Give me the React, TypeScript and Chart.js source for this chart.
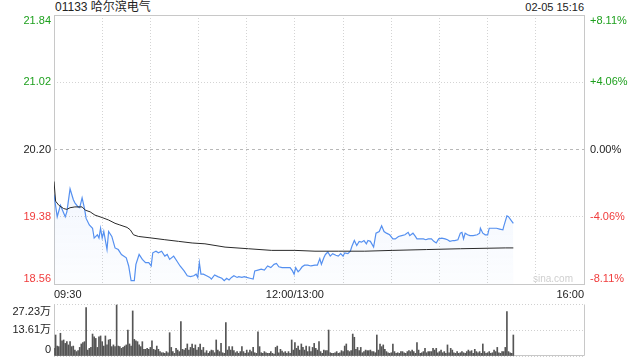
import React, { useEffect, useRef } from 'react';
import { Chart, registerables } from 'chart.js';

Chart.register(...registerables);

const FONT = '"Liberation Sans", "Noto Sans CJK SC", Arial, sans-serif';
const UP = '#1ea01e';
const DOWN = '#f03c3c';
const FLAT = '#222222';

const stockTitle = '01133 哈尔滨电气';
const stampText = '02-05 15:16';
const prevClose = 20.2;
const priceTicks = [18.56, 19.38, 20.2, 21.02, 21.84];
const pctTickLabels = ['-8.11%', '-4.06%', '0.00%', '+4.06%', '+8.11%'];
const gridMinutes = [0, 30, 60, 90, 120, 150, 180, 210, 240, 270, 300, 330];
const timeTickMinutes = [0, 150, 330];
const timeTickLabels = ['09:30', '12:00/13:00', '16:00'];
const volumeTicks = [0, 13.61, 27.23];
const volumeTickLabels = ['0', '13.61万', '27.23万'];

const priceMinutes = [
  0, 2, 4, 7, 8, 10, 12, 13, 15, 16, 17.5, 19, 20, 22, 24, 25, 27, 28, 29, 30,
  31, 33, 34, 36, 38, 40, 42, 45, 46.5, 48, 50, 51, 53, 55, 57, 59, 60.5, 61.5, 63.5, 65,
  67, 69, 70.5, 72, 74.5, 76.5, 78.5, 81, 83, 85, 87, 88.5, 89.5, 90.5, 91.5, 93, 95, 97, 98, 100,
  102, 104.5, 106, 107.5, 109, 110.5, 112, 114, 115, 117, 118.5, 120, 122, 124, 125, 127, 129, 131, 133, 135,
  137, 138.5, 140, 142, 145, 147, 148.5, 149.5, 150.5, 152, 153, 154.5, 156, 158, 160, 162.5, 164, 165.5, 166.5, 168,
  169, 170.5, 172, 173.5, 175.5, 177, 178.5, 180, 181, 183, 184.5, 185.5, 187, 188.5, 190, 191.5, 193, 194.5, 195.5, 197,
  199, 200.5, 202.5, 204, 205.5, 207, 209, 211, 212.5, 214.5, 216.5, 218.5, 220.5, 221.5, 223.5, 225, 226, 228, 230, 231.5,
  233, 235, 236.5, 238, 239.5, 241.5, 243.5, 245, 246.5, 248.5, 249.5, 251.5, 253, 254, 255, 256, 257.5, 259, 261, 263.5,
  265, 265.5, 267, 268.5, 270, 271, 273, 275.5, 277.5, 279.5, 280, 282, 283, 284.5, 286,
];
const prices = [
  19.65, 19.38, 19.52, 19.38, 19.44, 19.72, 19.59, 19.55, 19.5, 19.49, 19.61, 19.48, 19.36, 19.28, 19.24, 19.12, 19.16, 19.12, 19.24, 19.12,
  19.2, 18.98, 19.2, 19.14, 19.0, 18.98, 18.92, 18.88, 18.78, 18.6, 18.6, 18.8, 18.92, 18.86, 18.82, 18.82, 18.78, 18.94, 18.96, 18.94,
  18.96, 18.9, 18.92, 18.86, 18.9, 18.84, 18.78, 18.72, 18.66, 18.65, 18.66, 18.68, 18.64, 18.82, 18.68, 18.68, 18.66, 18.64, 18.62, 18.67,
  18.65, 18.63, 18.6, 18.63, 18.61, 18.64, 18.66, 18.64, 18.65, 18.64, 18.65, 18.64, 18.63, 18.62, 18.72, 18.73, 18.74, 18.73, 18.78, 18.76,
  18.8, 18.81, 18.77, 18.76, 18.76, 18.76, 18.72, 18.68, 18.76, 18.71, 18.73, 18.77, 18.79, 18.79, 18.78, 18.79, 18.79, 18.87, 18.8, 18.88,
  18.92, 18.95, 18.9, 18.93, 18.91, 18.9, 18.93, 18.9, 18.94, 18.93, 18.96, 19.02, 19.09, 19.03, 19.08, 19.07, 19.09, 19.05, 19.09, 19.08,
  19.01, 19.18, 19.2, 19.27, 19.2, 19.18, 19.16, 19.11, 19.11, 19.14, 19.15, 19.16, 19.19, 19.15, 19.18, 19.14, 19.11, 19.11, 19.11, 19.1,
  19.11, 19.11, 19.08, 19.06, 19.11, 19.12, 19.11, 19.1, 19.08, 19.09, 19.09, 19.1, 19.18, 19.19, 19.11, 19.18, 19.16, 19.15, 19.15, 19.16,
  19.18, 19.24, 19.18, 19.16, 19.16, 19.24, 19.24, 19.24, 19.23, 19.22, 19.26, 19.39, 19.38, 19.34, 19.3,
];

const avgMinutes = [
  0, 1, 3, 6, 8, 10, 13, 17.5, 19.5, 22.5, 25.5, 30, 34, 38, 41, 45.5, 47.5, 49.5, 52.5, 61,
  69, 77.5, 86, 94, 106.5, 121, 135.5, 150, 162.5, 177, 193.5, 211, 232, 253, 281, 286,
];
const avgPrices = [
  19.81, 19.57, 19.52, 19.48, 19.47, 19.49, 19.5, 19.5, 19.46, 19.44, 19.4, 19.37, 19.34, 19.3, 19.28, 19.25, 19.22, 19.16, 19.14, 19.12,
  19.1, 19.08, 19.06, 19.05, 19.01, 18.99, 18.97, 18.97, 18.96, 18.96, 18.96, 18.97, 18.98, 18.99, 19.0, 19.0,
];

// volume per minute (万股), index = trading minute since 09:30
const volumes = [
  4.0, 11.0, 5.2, 4.9, 11.9, 8.0, 8.4, 6.6, 7.5, 5.8,
  7.5, 4.9, 5.2, 3.1, 2.3, 2.8, 4.5, 6.3, 7.0, 7.5,
  25.3, 3.1, 4.0, 4.5, 11.5, 10.1, 9.2, 4.5, 10.1, 10.5,
  7.5, 5.2, 10.5, 5.8, 8.4, 8.7, 4.9, 5.8, 4.9, 26.7,
  5.2, 4.9, 4.0, 4.5, 5.2, 5.8, 13.6, 6.3, 5.2, 23.6,
  8.7, 8.0, 7.5, 5.8, 4.9, 7.5, 3.5, 3.5, 4.0, 3.5,
  4.5, 7.9, 3.5, 3.1, 5.2, 3.5, 2.3, 1.7, 1.7, 1.4,
  2.3, 1.7, 12.2, 4.5, 2.3, 1.4, 4.0, 3.1, 2.3, 18.0,
  3.5, 3.1, 4.0, 6.3, 3.1, 4.5, 6.3, 4.0, 5.8, 3.1,
  4.5, 6.3, 3.1, 4.5, 1.7, 2.8, 1.4, 2.3, 3.1, 2.8,
  1.7, 8.4, 3.1, 2.3, 6.6, 1.7, 1.4, 17.5, 3.1, 4.9,
  3.1, 4.9, 2.8, 1.7, 2.3, 1.4, 2.3, 4.9, 2.3, 1.4,
  3.1, 1.7, 3.1, 2.3, 4.5, 1.7, 1.4, 12.7, 4.9, 1.7,
  1.4, 2.3, 1.7, 1.4, 1.4, 2.3, 1.4, 1.0, 4.5, 5.2,
  1.7, 3.5, 2.6, 1.7, 2.3, 1.4, 2.3, 1.4, 8.4, 3.1,
  7.0, 4.0, 5.2, 3.1, 6.3, 4.5, 3.1, 5.2, 2.3, 4.9,
  2.3, 4.5, 6.6, 4.0, 3.1, 7.5, 2.3, 1.4, 3.1, 2.8,
  2.8, 13.6, 1.7, 1.4, 1.4, 1.7, 2.3, 1.4, 1.7, 2.8,
  2.3, 5.2, 6.3, 2.8, 2.3, 2.8, 11.5, 9.8, 3.5, 4.5,
  2.8, 4.5, 1.7, 2.3, 3.1, 2.8, 2.8, 3.1, 2.3, 2.3,
  1.7, 11.0, 3.1, 6.3, 4.9, 5.8, 3.5, 2.3, 1.7, 1.4,
  1.7, 6.3, 2.3, 1.4, 1.7, 1.4, 2.3, 2.3, 1.7, 1.4,
  2.3, 2.8, 2.3, 3.1, 2.3, 1.4, 7.0, 3.1, 1.4, 1.7,
  2.3, 4.0, 1.7, 2.3, 2.3, 2.3, 4.0, 3.1, 4.0, 1.7,
  2.3, 3.1, 1.7, 2.3, 1.4, 5.8, 1.7, 4.0, 3.1, 1.7,
  1.4, 2.3, 1.4, 1.7, 2.3, 1.7, 1.4, 2.3, 3.1, 2.3,
  2.8, 1.4, 3.5, 2.3, 1.7, 2.3, 1.4, 6.3, 2.3, 1.4,
  1.7, 2.3, 1.4, 1.7, 3.1, 2.3, 4.5, 1.7, 1.4, 2.3,
  2.3, 4.5, 23.2, 2.3, 1.7, 1.4, 11.0,
];

function priceColor(v: number) {
  if (Math.abs(v - prevClose) < 1e-6) return FLAT;
  return v > prevClose ? UP : DOWN;
}

const isPrev = (v: number) => Math.abs(v - prevClose) < 1e-6;

const mainDecor = {
  id: 'mainDecor',
  beforeDatasetsDraw(chart: any) {
    const { ctx, chartArea: a } = chart;
    ctx.save();
    ctx.strokeStyle = '#c8c8c8';
    ctx.lineWidth = 1;
    ctx.strokeRect(Math.round(a.left) + 0.5, Math.round(a.top) + 0.5, Math.round(a.right - a.left), Math.round(a.bottom - a.top));
    ctx.font = `10px ${FONT}`;
    ctx.fillStyle = '#cfcfcf';
    ctx.textAlign = 'right';
    ctx.textBaseline = 'middle';
    ctx.fillText('sina.com', a.right - 11, a.bottom - 5);
    ctx.restore();
  },
  afterDraw(chart: any) {
    const { ctx, chartArea: a, scales } = chart;
    const y = scales.y;
    ctx.save();
    ctx.font = `11px ${FONT}`;
    const last = priceTicks.length - 1;
    priceTicks.forEach((v, i) => {
      const py = y.getPixelForValue(v);
      ctx.textBaseline = i === 0 ? 'bottom' : i === last ? 'top' : 'middle';
      ctx.fillStyle = priceColor(v);
      ctx.textAlign = 'right';
      ctx.fillText(v.toFixed(2), a.left - 3, py);
      ctx.textAlign = 'left';
      ctx.fillText(pctTickLabels[i], a.right + 6, py);
    });
    ctx.restore();
  },
};

const volDecor = {
  id: 'volDecor',
  beforeDatasetsDraw(chart: any) {
    const { ctx, chartArea: a } = chart;
    ctx.save();
    ctx.strokeStyle = '#c8c8c8';
    ctx.lineWidth = 1;
    ctx.beginPath();
    const l = Math.round(a.left) + 0.5;
    const r = Math.round(a.right) + 0.5;
    const t = Math.round(a.top) + 0.5;
    const b = Math.round(a.bottom) - 0.5;
    ctx.moveTo(l, t);
    ctx.lineTo(l, b);
    ctx.lineTo(r, b);
    ctx.lineTo(r, t);
    ctx.stroke();
    ctx.restore();
  },
  afterDraw(chart: any) {
    const { ctx, chartArea: a, scales } = chart;
    const y = scales.y;
    ctx.save();
    ctx.font = `11px ${FONT}`;
    ctx.fillStyle = FLAT;
    ctx.textAlign = 'right';
    const last = volumeTicks.length - 1;
    volumeTicks.forEach((v, i) => {
      const py = y.getPixelForValue(v);
      ctx.textBaseline = i === 0 ? 'bottom' : i === last ? 'top' : 'middle';
      ctx.fillText(volumeTickLabels[i], a.left - 3, i === 0 ? py - 1 : i === last ? py + 2 : py);
    });
    ctx.restore();
  },
};

export default function App() {
  const mainRef = useRef<HTMLCanvasElement>(null);
  const volRef = useRef<HTMLCanvasElement>(null);

  useEffect(() => {
    const priceData = priceMinutes.map((m, i) => ({ x: m, y: prices[i] }));
    const avgData = avgMinutes.map((m, i) => ({ x: m, y: avgPrices[i] }));
    const volData = volumes.map((v, i) => ({ x: i, y: v }));

    const main = new Chart(mainRef.current as HTMLCanvasElement, {
      type: 'line',
      data: {
        datasets: [
          {
            label: '均价',
            data: avgData,
            borderColor: '#2a2a2a',
            borderWidth: 1,
            pointRadius: 0,
            fill: false,
            tension: 0,
            order: 0,
          },
          {
            label: '价格',
            data: priceData,
            borderColor: '#5590f0',
            borderWidth: 1.2,
            pointRadius: 0,
            tension: 0,
            fill: 'start',
            order: 1,
            backgroundColor: (c: any) => {
              const { chart } = c;
              const area = chart.chartArea;
              if (!area) return 'rgba(85,144,240,0.08)';
              const g = chart.ctx.createLinearGradient(0, area.top, 0, area.bottom);
              g.addColorStop(0, 'rgba(85,144,240,0.16)');
              g.addColorStop(1, 'rgba(85,144,240,0.02)');
              return g;
            },
          },
        ],
      },
      options: {
        animation: false,
        responsive: false,
        maintainAspectRatio: false,
        events: [],
        layout: { padding: { left: 54, right: 56, top: 15, bottom: 0 } },
        plugins: { legend: { display: false }, tooltip: { enabled: false } },
        scales: {
          x: {
            type: 'linear',
            min: 0,
            max: 330,
            afterBuildTicks: (s: any) => {
              s.ticks = gridMinutes.map((v) => ({ value: v }));
            },
            afterFit: (s: any) => {
              s.height = 16;
            },
            grid: { color: '#d4d4d4', lineWidth: 1, drawTicks: false },
            border: { display: false, dash: [1, 2] },
            ticks: {
              autoSkip: false,
              maxRotation: 0,
              minRotation: 0,
              align: 'inner',
              padding: 4,
              color: FLAT,
              font: { size: 11, family: FONT },
              callback: (v: any) => {
                const k = timeTickMinutes.indexOf(Number(v));
                return k >= 0 ? timeTickLabels[k] : '';
              },
            },
          },
          y: {
            type: 'linear',
            min: priceTicks[0],
            max: priceTicks[priceTicks.length - 1],
            afterBuildTicks: (s: any) => {
              s.ticks = priceTicks.map((v) => ({ value: v }));
            },
            afterFit: (s: any) => {
              s.width = 0;
            },
            ticks: { display: false },
            grid: {
              drawTicks: false,
              color: (c: any) => (c.tick && isPrev(c.tick.value) ? '#b8b8b8' : '#d4d4d4'),
            },
            border: {
              display: false,
              dash: (c: any) => (c.tick && isPrev(c.tick.value) ? [3, 3] : [1, 2]),
            },
          },
        },
      },
      plugins: [mainDecor],
    } as any);

    const vol = new Chart(volRef.current as HTMLCanvasElement, {
      type: 'bar',
      data: {
        datasets: [
          {
            label: '成交量',
            data: volData,
            backgroundColor: '#555555',
            borderWidth: 0,
            barThickness: 1,
          },
        ],
      },
      options: {
        animation: false,
        responsive: false,
        maintainAspectRatio: false,
        events: [],
        layout: { padding: { left: 54, right: 56, top: 4, bottom: 4 } },
        plugins: { legend: { display: false }, tooltip: { enabled: false } },
        scales: {
          x: {
            type: 'linear',
            min: 0,
            max: 330,
            offset: false,
            display: false,
            grid: { offset: false },
          },
          y: {
            type: 'linear',
            min: volumeTicks[0],
            max: volumeTicks[volumeTicks.length - 1],
            afterBuildTicks: (s: any) => {
              s.ticks = volumeTicks.map((v) => ({ value: v }));
            },
            afterFit: (s: any) => {
              s.width = 0;
            },
            ticks: { display: false },
            grid: { drawTicks: false, color: '#d0d0d0' },
            border: { display: false, dash: [1, 2] },
          },
        },
      },
      plugins: [volDecor],
    } as any);

    return () => {
      main.destroy();
      vol.destroy();
    };
  }, []);

  return (
    <div
      style={{
        position: 'absolute',
        left: 0,
        top: 0,
        width: 640,
        height: 360,
        background: '#fff',
        fontFamily: FONT,
        overflow: 'hidden',
      }}
    >
      <div style={{ position: 'absolute', left: 55, top: 0, fontSize: 12, lineHeight: '14px', color: FLAT, whiteSpace: 'nowrap' }}>
        {stockTitle}
      </div>
      <div style={{ position: 'absolute', right: 56, top: 0, fontSize: 11, lineHeight: '14px', color: FLAT, whiteSpace: 'nowrap' }}>
        {stampText}
      </div>
      <canvas ref={mainRef} width={640} height={300} style={{ position: 'absolute', left: 0, top: 0, width: 640, height: 300 }} />
      <canvas ref={volRef} width={640} height={60} style={{ position: 'absolute', left: 0, top: 300, width: 640, height: 60 }} />
    </div>
  );
}
